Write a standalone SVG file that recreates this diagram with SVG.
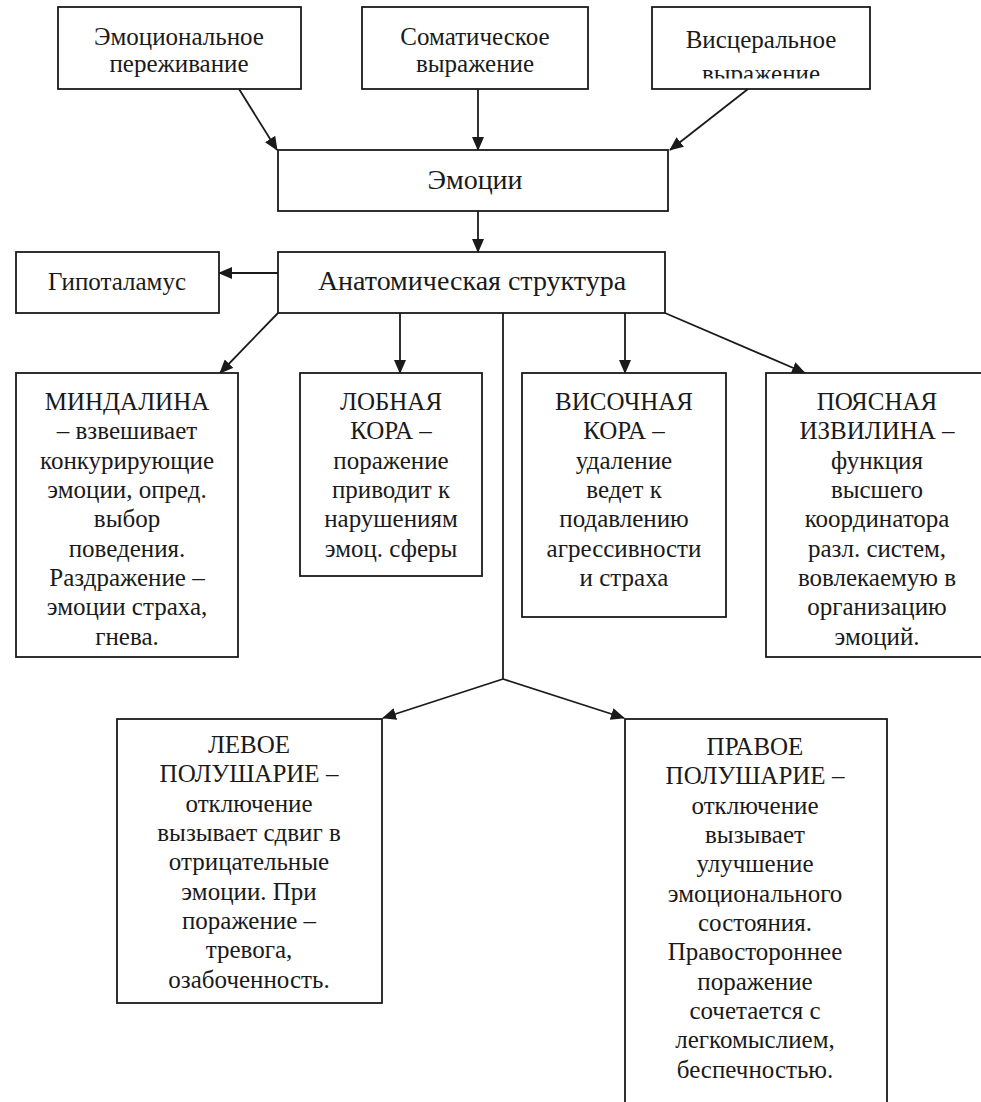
<svg xmlns="http://www.w3.org/2000/svg" width="981" height="1102" viewBox="0 0 981 1102">
<style>
.box{fill:#fff;stroke:#1a1a1a;stroke-width:1.8}
.t{font-family:'Liberation Serif','DejaVu Serif',serif;font-size:25px;fill:#1a1a1a;text-anchor:middle}
.big{font-size:28px}
.c{stroke:#1a1a1a;stroke-width:1.8;fill:none}
.a{marker-end:url(#arr)}
</style>
<defs>
<marker id="arr" markerUnits="userSpaceOnUse" markerWidth="14" markerHeight="12" refX="13" refY="6" orient="auto">
<path d="M0,0 L14,6 L0,12 z" fill="#1a1a1a"/>
</marker>
<clipPath id="clipV"><rect x="640" y="0" width="250" height="78.5"/></clipPath>
</defs>
<rect width="981" height="1102" fill="#fff"/>
<g id="connectors">
<line class="c a" x1="239" y1="89" x2="277" y2="150"/>
<line class="c a" x1="478" y1="89" x2="478" y2="150"/>
<line class="c a" x1="748" y1="89" x2="670" y2="150"/>
<line class="c a" x1="478" y1="211" x2="478" y2="252"/>
<line class="c a" x1="278" y1="273" x2="219" y2="273"/>
<line class="c a" x1="278" y1="313" x2="220" y2="373"/>
<line class="c a" x1="400" y1="313" x2="400" y2="373"/>
<line class="c" x1="503" y1="313" x2="503" y2="679"/>
<line class="c a" x1="503" y1="679" x2="383" y2="718"/>
<line class="c a" x1="503" y1="679" x2="624" y2="718"/>
<line class="c a" x1="625" y1="313" x2="625" y2="373"/>
<line class="c a" x1="665" y1="313" x2="805" y2="373"/>
</g>
<g id="n-perezhivanie" font-family="Liberation Serif, DejaVu Serif, serif">
<rect class="box" x="58" y="7" width="243" height="82"/>
<text class="t" x="179" y="45">Эмоциональное</text>
<text class="t" x="179" y="72">переживание</text>
</g>
<g id="n-somatic">
<rect class="box" x="362" y="7" width="226" height="82"/>
<text class="t" x="475" y="45">Соматическое</text>
<text class="t" x="475" y="72">выражение</text>
</g>
<g id="n-visceral">
<rect class="box" x="652" y="7" width="218" height="82"/>
<text class="t" x="761" y="48">Висцеральное</text>
<text class="t" x="761" y="82" clip-path="url(#clipV)">выражение</text>
</g>
<g id="n-emotions">
<rect class="box" x="278" y="150" width="390" height="61"/>
<text class="t big" x="475" y="189">Эмоции</text>
</g>
<g id="n-hypothalamus">
<rect class="box" x="16" y="252" width="203" height="61"/>
<text class="t" x="117" y="290">Гипоталамус</text>
</g>
<g id="n-anatomy">
<rect class="box" x="278" y="252" width="387" height="61"/>
<text class="t big" x="472" y="290">Анатомическая структура</text>
</g>
<g id="n-amygdala">
<rect class="box" x="16" y="373" width="222" height="284"/>
<text class="t" x="127" y="410">МИНДАЛИНА</text>
<text class="t" x="127" y="439">– взвешивает</text>
<text class="t" x="127" y="468.5">конкурирующие</text>
<text class="t" x="127" y="498">эмоции, опред.</text>
<text class="t" x="127" y="527">выбор</text>
<text class="t" x="127" y="556.5">поведения.</text>
<text class="t" x="127" y="586">Раздражение –</text>
<text class="t" x="127" y="615">эмоции страха,</text>
<text class="t" x="127" y="644.5">гнева.</text>
</g>
<g id="n-frontal">
<rect class="box" x="300" y="373" width="182" height="203"/>
<text class="t" x="391" y="410">ЛОБНАЯ</text>
<text class="t" x="391" y="439">КОРА –</text>
<text class="t" x="391" y="468.5">поражение</text>
<text class="t" x="391" y="498">приводит к</text>
<text class="t" x="391" y="527">нарушениям</text>
<text class="t" x="391" y="556.5">эмоц. сферы</text>
</g>
<g id="n-temporal">
<rect class="box" x="522" y="373" width="204" height="244"/>
<text class="t" x="624" y="410">ВИСОЧНАЯ</text>
<text class="t" x="624" y="439">КОРА –</text>
<text class="t" x="624" y="468.5">удаление</text>
<text class="t" x="624" y="498">ведет к</text>
<text class="t" x="624" y="527">подавлению</text>
<text class="t" x="624" y="556.5">агрессивности</text>
<text class="t" x="624" y="586">и страха</text>
</g>
<g id="n-cingulate">
<rect class="box" x="766" y="373" width="224" height="284"/>
<text class="t" x="877" y="410">ПОЯСНАЯ</text>
<text class="t" x="877" y="439">ИЗВИЛИНА –</text>
<text class="t" x="877" y="468.5">функция</text>
<text class="t" x="877" y="498">высшего</text>
<text class="t" x="877" y="527">координатора</text>
<text class="t" x="877" y="556.5">разл. систем,</text>
<text class="t" x="877" y="586">вовлекаемую в</text>
<text class="t" x="877" y="615">организацию</text>
<text class="t" x="877" y="644.5">эмоций.</text>
</g>
<g id="n-left">
<rect class="box" x="117" y="719" width="265" height="284"/>
<text class="t" x="249" y="753">ЛЕВОЕ</text>
<text class="t" x="249" y="782">ПОЛУШАРИЕ –</text>
<text class="t" x="249" y="811.5">отключение</text>
<text class="t" x="249" y="841">вызывает сдвиг в</text>
<text class="t" x="249" y="870">отрицательные</text>
<text class="t" x="249" y="899.5">эмоции. При</text>
<text class="t" x="249" y="929">поражение –</text>
<text class="t" x="249" y="958">тревога,</text>
<text class="t" x="249" y="987.5">озабоченность.</text>
</g>
<g id="n-right">
<rect class="box" x="625" y="719" width="262" height="400"/>
<text class="t" x="755" y="755">ПРАВОЕ</text>
<text class="t" x="755" y="784">ПОЛУШАРИЕ –</text>
<text class="t" x="755" y="813.5">отключение</text>
<text class="t" x="755" y="843">вызывает</text>
<text class="t" x="755" y="872">улучшение</text>
<text class="t" x="755" y="901.5">эмоционального</text>
<text class="t" x="755" y="931">состояния.</text>
<text class="t" x="755" y="960">Правостороннее</text>
<text class="t" x="755" y="989.5">поражение</text>
<text class="t" x="755" y="1019">сочетается с</text>
<text class="t" x="755" y="1048">легкомыслием,</text>
<text class="t" x="755" y="1077.5">беспечностью.</text>
</g>
</svg>
